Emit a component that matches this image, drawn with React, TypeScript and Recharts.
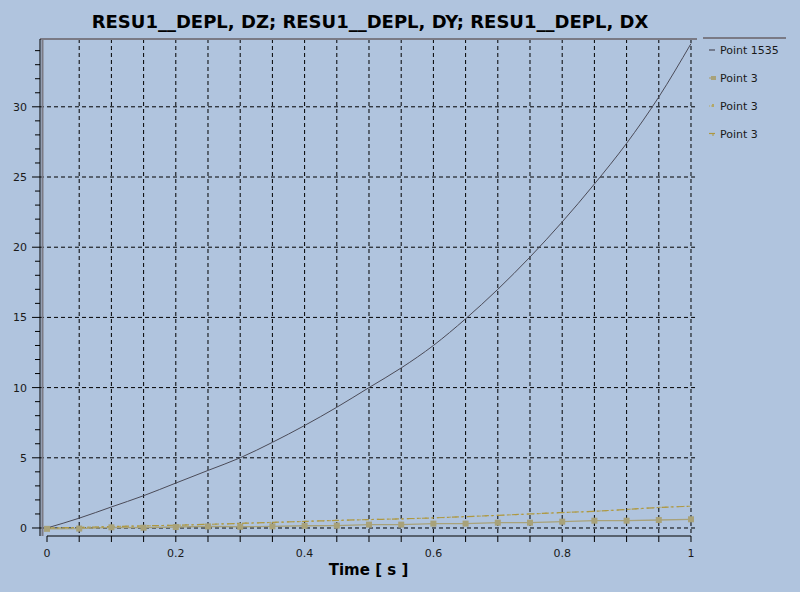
import React from 'react';
import { LineChart, Line, XAxis, YAxis, CartesianGrid, ReferenceLine, Legend } from 'recharts';

const timeValues = [0, 0.05, 0.1, 0.15, 0.2, 0.25, 0.3, 0.35, 0.4, 0.45, 0.5, 0.55, 0.6, 0.65, 0.7, 0.75, 0.8, 0.85, 0.9, 0.95, 1.0];
const point1535 = [0, 0.7, 1.5, 2.3, 3.2, 4.1, 5.0, 6.1, 7.3, 8.6, 10.0, 11.4, 13.0, 14.9, 17.0, 19.3, 21.8, 24.5, 27.4, 30.7, 34.5];
const point3Square = [-0.06, -0.04, 0.05, 0.02, 0.07, 0.11, 0.09, 0.12, 0.16, 0.17, 0.24, 0.24, 0.31, 0.31, 0.38, 0.38, 0.45, 0.52, 0.52, 0.57, 0.62];
const point3Dotted = [0, 0.04, 0.1, 0.15, 0.2, 0.26, 0.33, 0.4, 0.47, 0.54, 0.6, 0.65, 0.72, 0.81, 0.9, 1.0, 1.1, 1.19, 1.32, 1.46, 1.55];
const point3Dashed = [0, 0.04, 0.1, 0.15, 0.2, 0.26, 0.33, 0.4, 0.47, 0.54, 0.6, 0.65, 0.72, 0.81, 0.9, 1.0, 1.1, 1.19, 1.32, 1.46, 1.55];

const seriesNames = ['Point 1535', 'Point 3', 'Point 3', 'Point 3'];
const seriesColors = ['#4b4b58', '#a8a27a', '#b3a868', '#ae9840'];
const title = 'RESU1__DEPL, DZ; RESU1__DEPL, DY; RESU1__DEPL, DX';
const xLabel = 'Time [ s ]';
const xTicks = timeValues;
const xGrid = timeValues.slice(1);
const yTicks = Array.from({ length: 35 }, (_, i) => i);
const yGrid = [0, 5, 10, 15, 20, 25, 30];

const data = timeValues.map((t, i) => ({
  t,
  a: point1535[i],
  b: point3Square[i],
  c: point3Dotted[i],
  d: point3Dashed[i],
}));

const FONT = "'DejaVu Sans', sans-serif";

const YTick = (props: any) => {
  const { x, y, payload } = props;
  const v = payload.value;
  const major = v % 5 === 0;
  return (
    <g>
      <line x1={x - (major ? 8 : 5)} x2={x} y1={y} y2={y} stroke="#000" />
      {major && (
        <text x={x - 13} y={y} dy={4} textAnchor="end" fontSize={11} fontFamily={FONT} fill="#1a1a1a">
          {v}
        </text>
      )}
    </g>
  );
};

const XTick = (props: any) => {
  const { x, y, payload } = props;
  const v = payload.value;
  const major = Math.abs(Math.round(v * 5) - v * 5) < 1e-6;
  return (
    <g>
      <line x1={x} x2={x} y1={y} y2={y + 6} stroke="#000" />
      {major && (
        <text x={x} y={y + 21} textAnchor="middle" fontSize={11} fontFamily={FONT} fill="#1a1a1a">
          {Number(v.toFixed(1)).toString()}
        </text>
      )}
    </g>
  );
};

const LegendContent = () => (
  <div style={{ borderTop: '2px solid #7a7a85', paddingTop: 3, fontFamily: FONT, fontSize: 11, color: '#1a1a1a' }}>
    {seriesNames.map((n, i) => (
      <div key={i} style={{ height: 28, display: 'flex', alignItems: 'center', position: 'relative', top: -6 }}>
        <svg width={17} height={10}>
          {i === 0 && <line x1={6} x2={12} y1={5} y2={5} stroke={seriesColors[0]} strokeWidth={1.2} />}
          {i === 1 && (
            <g>
              <line x1={6} x2={12} y1={5} y2={5} stroke={seriesColors[1]} strokeWidth={1.2} />
              <rect x={8} y={3} width={5} height={4} fill={seriesColors[1]} />
            </g>
          )}
          {i === 2 && (
            <g>
              <line x1={6} x2={12} y1={5} y2={5} stroke={seriesColors[2]} strokeDasharray="1 1" />
              <rect x={9} y={3} width={2} height={3} fill={seriesColors[2]} />
            </g>
          )}
          {i === 3 && (
            <g>
              <line x1={6} x2={12} y1={4.5} y2={4.5} stroke={seriesColors[3]} strokeWidth={1.2} />
              <line x1={10} x2={10} y1={4.5} y2={7} stroke={seriesColors[3]} />
            </g>
          )}
        </svg>
        <span>{n}</span>
      </div>
    ))}
  </div>
);

const SquareDot = (props: any) => {
  const { cx, cy, index } = props;
  if (cx == null || cy == null) return <g key={index} />;
  return <rect key={index} x={cx - 3} y={cy - 3} width={6} height={6} fill={seriesColors[1]} />;
};

export default function App() {
  return (
    <div style={{ position: 'absolute', left: 0, top: 0, width: 800, height: 592, background: '#b0c4de', overflow: 'hidden' }}>
      <div style={{ position: 'absolute', left: 0, width: 740, top: 9, textAlign: 'center', fontFamily: FONT, fontWeight: 'bold', fontSize: 18, color: '#000', lineHeight: '26px' }}>
        {title}
      </div>
      <LineChart width={800} height={592} data={data} margin={{ top: 39, right: 103, bottom: 6, left: 0 }}>
        <CartesianGrid stroke="#000" strokeDasharray="4 3" horizontalValues={yGrid} verticalValues={xGrid} />
        <XAxis
          dataKey="t"
          type="number"
          domain={[-0.01087, 1.00932]}
          allowDataOverflow
          ticks={xTicks}
          interval={0}
          axisLine={false}
          tickLine={false}
          tickSize={0}
          tickMargin={0}
          tick={<XTick />}
          height={50}
          label={{ value: xLabel, position: 'insideBottom', offset: 11, style: { fontFamily: FONT, fontWeight: 'bold', fontSize: 15, fill: '#000' } }}
        />
        <YAxis
          type="number"
          domain={[-0.57, 34.83]}
          allowDataOverflow
          ticks={yTicks}
          interval={0}
          width={40}
          axisLine={{ stroke: '#000' }}
          tickLine={false}
          tickSize={0}
          tickMargin={0}
          tick={<YTick />}
        />
        <ReferenceLine x={-0.007} stroke="#7a7a85" strokeWidth={2} />
        <ReferenceLine y={34.83} stroke="#7a7a85" strokeWidth={2} />
        <ReferenceLine segment={[{ x: 0, y: -0.57 }, { x: 1, y: -0.57 }]} stroke="#000" strokeWidth={1} />
        <Legend
          layout="vertical"
          align="center"
          verticalAlign="middle"
          wrapperStyle={{ left: 703, top: 37, width: 83 }}
          content={<LegendContent />}
        />
        <Line type="monotone" dataKey="a" name={seriesNames[0]} stroke={seriesColors[0]} strokeWidth={1} dot={false} isAnimationActive={false} />
        <Line type="linear" dataKey="b" name={seriesNames[1]} stroke={seriesColors[1]} strokeWidth={1.3} dot={<SquareDot />} isAnimationActive={false} />
        <Line type="monotone" dataKey="c" name={seriesNames[2]} stroke={seriesColors[2]} strokeWidth={1.2} strokeDasharray="2 4" dot={false} isAnimationActive={false} />
        <Line type="monotone" dataKey="d" name={seriesNames[3]} stroke={seriesColors[3]} strokeWidth={1.2} strokeDasharray="7 3 2 3" dot={false} isAnimationActive={false} />
      </LineChart>
    </div>
  );
}
